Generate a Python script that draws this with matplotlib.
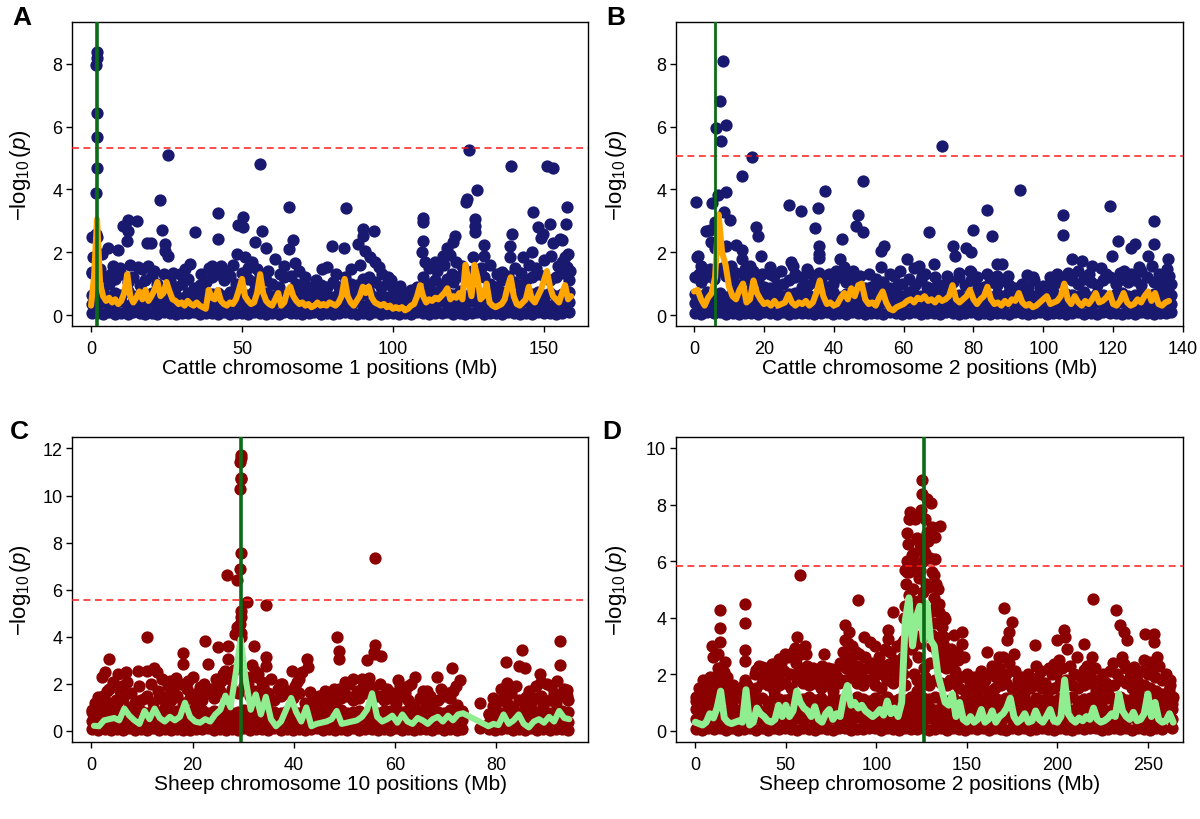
import matplotlib as mpl
mpl.use('Agg')
import matplotlib.pyplot as plt

plt.rcParams['font.family'] = ['Liberation Sans', 'DejaVu Sans']
plt.rcParams['mathtext.fontset'] = 'custom'
plt.rcParams['mathtext.rm'] = 'Liberation Sans'
plt.rcParams['mathtext.it'] = 'Liberation Sans:italic'
plt.rcParams['mathtext.bf'] = 'Liberation Sans:bold'

NAVY = '#191970'
DARKRED = '#8b0000'
ORANGE = '#ffa500'
LIGHTGREEN = '#90ee90'

# ---------------- panel A : cattle chromosome 1 ----------------
a_cols = [0.2, 2.1, 4.0, 6.1, 8.0, 10.0, 12.1, 14.0, 16.1, 18.0,
          20.1, 22.0, 24.1, 26.0, 28.1, 30.0, 32.0, 34.1, 36.0, 38.1,
          40.0, 42.1, 44.0, 46.0, 48.1, 50.0, 52.1, 54.0, 56.1, 58.0,
          60.0, 62.1, 64.0, 66.1, 68.0, 70.0, 72.1, 74.0, 76.1, 78.0,
          80.0, 82.1, 84.0, 86.1, 88.0, 90.0, 92.1, 94.0, 96.1, 98.0,
          100.0, 102.1, 104.0, 106.1, 108.0, 110.0, 112.1, 114.0, 116.1, 118.0,
          120.0, 122.1, 124.0, 126.1, 128.0, 130.0, 132.1, 134.0, 136.1, 138.0,
          140.0, 142.1, 144.0, 146.1, 148.0, 150.0, 152.1, 154.0, 156.1, 158.3]
a_low = [0.05, 0.08, 0.03, 0.10, 0.04, 0.07, 0.02, 0.09, 0.05, 0.03,
         0.08, 0.04, 0.10, 0.06, 0.03, 0.07, 0.05, 0.09, 0.02, 0.06,
         0.08, 0.04, 0.10, 0.03, 0.07, 0.05, 0.02, 0.09, 0.06, 0.04,
         0.08, 0.03, 0.10, 0.05, 0.07, 0.02, 0.06, 0.09, 0.04, 0.08,
         0.03, 0.05, 0.10, 0.07, 0.02, 0.06, 0.04, 0.09, 0.03, 0.08,
         0.05, 0.02, 0.07, 0.04, 0.10, 0.06, 0.03, 0.08, 0.05, 0.09,
         0.02, 0.07, 0.04, 0.06, 0.10, 0.03, 0.08, 0.05, 0.02, 0.09,
         0.06, 0.04, 0.07, 0.03, 0.10, 0.05, 0.08, 0.02, 0.06, 0.09]
a_mid = [0.35, 0.28, 0.42, 0.31, 0.38, 0.45, 0.30, 0.40, 0.33, 0.27,
         0.44, 0.36, 0.29, 0.41, 0.34, 0.26, 0.39, 0.32, 0.43, 0.28,
         0.37, 0.30, 0.45, 0.35, 0.27, 0.40, 0.33, 0.42, 0.29, 0.36,
         0.31, 0.44, 0.26, 0.38, 0.34, 0.28, 0.41, 0.30, 0.37, 0.43,
         0.27, 0.35, 0.39, 0.32, 0.45, 0.29, 0.36, 0.40, 0.26, 0.33,
         0.30, 0.27, 0.38, 0.25, 0.31, 0.42, 0.35, 0.28, 0.44, 0.37,
         0.30, 0.41, 0.33, 0.45, 0.39, 0.29, 0.36, 0.43, 0.27, 0.40,
         0.32, 0.38, 0.44, 0.30, 0.35, 0.42, 0.28, 0.39, 0.34, 0.41]
a_upper = [0.65, 0.60, 0.72, 0.58, 0.70, 0.63, 0.75, 0.60, 0.68, 0.56,
           0.71, 0.64, 0.59, 0.73, 0.62, 0.55, 0.69, 0.61, 0.74, 0.57,
           0.66, 0.70, 0.60, 0.72, 0.58, 0.67, 0.63, 0.75, 0.59, 0.70,
           0.62, 0.68, 0.56, 0.73, 0.60, 0.55, 0.65, 0.58, 0.69, 0.62,
           0.57, 0.70, 0.64, 0.74, 0.60, 0.67, 0.72, 0.58, 0.63, 0.56,
           0.55, 0.52, 0.60, 0.50, 0.58, 0.70, 0.66, 0.73, 0.61, 0.69,
           0.64, 0.75, 0.60, 0.72, 0.68, 0.63, 0.70, 0.58, 0.74, 0.66,
           0.62, 0.71, 0.59, 0.68, 0.73, 0.65, 0.70, 0.60, 0.67, 0.72]
a_top = [1.35, 1.10, 1.25, 1.00, 1.15, 1.30, 1.05, 1.20, 0.95, 1.10,
         1.25, 1.00, 1.30, 1.10, 0.90, 1.00, 1.15, 0.85, 0.95, 1.05,
         1.20, 1.30, 1.10, 1.25, 1.00, 1.35, 1.15, 1.05, 1.30, 1.10,
         1.00, 0.90, 1.20, 1.25, 1.00, 0.85, 0.90, 0.80, 0.95, 0.90,
         1.05, 0.90, 1.20, 1.00, 0.95, 1.15, 1.20, 1.05, 0.90, 1.00,
         0.85, 0.75, 0.70, 0.80, 0.90, 1.20, 1.00, 1.10, 0.95, 1.15,
         1.05, 1.25, 1.30, 1.40, 1.35, 1.20, 1.00, 0.90, 1.10, 1.25,
         1.05, 0.95, 1.10, 1.20, 1.30, 1.25, 1.10, 1.20, 1.35, 1.10]
a_hits = [(1.9, 8.39), (1.9, 8.2), (1.8, 7.96), (2.0, 6.43), (1.9, 5.68), (1.9, 4.67),
          (1.7, 3.9), (1.6, 2.58), (2.0, 2.47), (1.5, 1.84), (1.4, 1.36), (0.2, 2.47),
          (0.2, 1.36), (0.5, 1.85),
          (25.6, 5.1), (56.0, 4.81), (22.8, 3.67), (41.9, 3.25), (41.9, 2.42), (50.4, 3.11),
          (48.6, 2.88), (50.4, 2.79), (65.7, 3.45), (34.4, 2.63), (23.4, 2.7), (12.4, 3.04),
          (15.1, 3.0), (10.7, 2.82), (12.4, 2.69), (11.8, 2.35), (56.7, 2.69), (54.3, 2.31),
          (57.8, 2.13), (67.0, 2.39), (65.7, 2.1), (24.5, 2.26), (25.6, 1.89), (24.5, 2.05),
          (18.4, 2.3), (20.0, 2.28), (5.7, 2.12), (9.0, 2.08), (3.5, 1.94), (48.2, 1.94),
          (51.0, 1.84), (53.2, 1.68), (60.9, 1.78), (67.5, 1.66), (32.8, 1.62), (40.0, 1.57),
          (15.7, 1.52), (7.4, 1.57), (76.4, 1.46),
          (125.2, 5.25), (139.0, 4.73), (151.0, 4.73), (153.1, 4.68), (127.7, 3.98),
          (124.4, 3.69), (124.1, 3.61), (157.5, 3.43), (146.5, 3.29), (84.4, 3.4),
          (110.0, 3.08), (110.0, 2.97), (127.2, 3.06), (127.2, 2.85), (127.2, 2.65),
          (90.2, 2.74), (93.7, 2.69), (90.2, 2.53), (139.3, 2.58), (157.3, 2.9), (148.1, 2.79),
          (151.9, 2.9), (149.8, 2.58), (155.3, 2.42), (120.5, 2.53), (120.0, 2.31), (118.0, 2.15),
          (79.7, 2.2), (83.8, 2.15), (110.0, 2.37), (109.5, 2.0), (130.2, 2.24), (130.2, 1.89),
          (138.8, 2.19), (138.8, 1.84), (152.5, 1.89), (157.0, 1.84), (157.5, 1.52), (88.5, 2.26),
          (90.7, 2.05), (92.4, 1.84), (94.0, 1.68), (95.5, 1.52), (126.6, 1.84), (114.0, 1.68),
          (116.7, 1.89), (119.4, 1.31), (136.0, 1.36), (143.2, 1.84), (98.2, 1.2), (102.3, 0.93),
          (78.0, 1.52), (77.0, 0.88)]
a_scatter = [(3.0, 1.45), (6.5, 1.3), (9.5, 1.5), (13.0, 1.6), (17.0, 1.45), (19.0, 1.55),
             (21.0, 1.4), (27.0, 1.35), (29.5, 1.3), (31.0, 1.45), (36.5, 1.3), (39.0, 1.5),
             (43.0, 1.55), (45.0, 1.4), (47.0, 1.6), (52.0, 1.5), (55.0, 1.45), (58.5, 1.4),
             (62.5, 1.3), (64.0, 1.55), (69.0, 1.4), (71.0, 1.2), (74.5, 1.1), (81.0, 1.3),
             (86.0, 1.45), (89.0, 1.6), (96.5, 1.3), (99.5, 1.1), (112.0, 1.5), (114.5, 1.4),
             (117.0, 1.6), (121.0, 1.7), (123.0, 1.55), (129.0, 1.5), (132.0, 1.6), (134.5, 1.3),
             (140.5, 1.5), (142.5, 1.35), (145.0, 1.6), (147.5, 1.5), (150.0, 1.75), (154.5, 1.55),
             (156.0, 1.7), (158.5, 1.4), (110.5, 1.7), (119.0, 1.9), (146.0, 2.0), (153.0, 2.3),
             (158.0, 1.95), (149.0, 2.45), (156.0, 2.4)]
a_smooth_start, a_smooth_step = 0.0, 1.0
a_smooth = [0.3, 1.2, 3.05, 1.0, 0.6, 0.45, 0.55, 0.4, 0.5, 0.35,
            0.45, 0.7, 1.3, 0.6, 0.4, 0.55, 0.75, 0.5, 0.8, 0.45,
            0.6, 0.8, 1.05, 0.6, 0.7, 1.05, 0.75, 0.5, 0.45, 0.35,
            0.4, 0.3, 0.45, 0.35, 0.3, 0.4, 0.3, 0.25, 0.2, 0.8,
            0.55, 0.5, 0.8, 0.45, 0.35, 0.3, 0.4, 0.35, 0.5, 0.8,
            1.15, 0.6, 0.45, 0.35, 0.4, 0.7, 1.3, 0.7, 0.45, 0.35,
            0.3, 0.5, 0.7, 0.3, 0.4, 0.75, 0.9, 0.6, 0.45, 0.35,
            0.4, 0.3, 0.35, 0.25, 0.3, 0.4, 0.3, 0.35, 0.3, 0.4,
            0.35, 0.3, 0.4, 0.6, 1.15, 0.6, 0.4, 0.3, 0.45, 0.6,
            0.9, 0.7, 0.9, 0.55, 0.4, 0.35, 0.3, 0.35, 0.25, 0.3,
            0.2, 0.25, 0.2, 0.25, 0.15, 0.2, 0.3, 0.35, 0.6, 0.95,
            0.6, 0.4, 0.5, 0.45, 0.55, 0.5, 0.6, 0.7, 0.85, 0.5,
            0.6, 0.55, 0.7, 0.5, 1.6, 1.1, 0.6, 1.6, 1.2, 0.5,
            0.6, 1.0, 0.4, 0.3, 0.25, 0.3, 0.35, 0.5, 0.9, 1.2,
            0.6, 0.35, 0.3, 0.4, 0.5, 0.9, 0.5, 0.4, 0.6, 0.8,
            1.1, 1.4, 0.9, 0.6, 0.5, 0.4, 0.7, 0.95, 0.5, 0.6]

# ---------------- panel B : cattle chromosome 2 ----------------
b_cols = [0.2, 2.0, 3.8, 5.6, 7.4, 9.2, 11.0, 12.8, 14.6, 16.4,
          18.2, 20.0, 21.8, 23.6, 25.4, 27.2, 29.0, 30.8, 32.6, 34.4,
          36.2, 38.0, 39.8, 41.6, 43.4, 45.2, 47.0, 48.8, 50.6, 52.4,
          54.2, 56.0, 57.8, 59.6, 61.4, 63.2, 65.0, 66.8, 68.6, 70.4,
          72.2, 74.0, 75.8, 77.6, 79.4, 81.2, 83.0, 84.8, 86.6, 88.4,
          90.2, 92.0, 93.8, 95.6, 97.4, 99.2, 101.0, 102.8, 104.6, 106.4,
          108.2, 110.0, 111.8, 113.6, 115.4, 117.2, 119.0, 120.8, 122.6, 124.4,
          126.2, 128.0, 129.8, 131.6, 133.4, 135.2, 136.6]
b_low = [0.06, 0.03, 0.09, 0.05, 0.10, 0.04, 0.07, 0.02, 0.08, 0.05,
         0.03, 0.09, 0.06, 0.04, 0.10, 0.02, 0.07, 0.05, 0.08, 0.03,
         0.06, 0.10, 0.04, 0.07, 0.02, 0.09, 0.05, 0.03, 0.08, 0.06,
         0.04, 0.10, 0.07, 0.02, 0.05, 0.09, 0.03, 0.06, 0.08, 0.04,
         0.10, 0.05, 0.02, 0.07, 0.09, 0.03, 0.06, 0.04, 0.08, 0.05,
         0.02, 0.10, 0.07, 0.03, 0.06, 0.09, 0.04, 0.08, 0.05, 0.02,
         0.07, 0.10, 0.03, 0.06, 0.04, 0.09, 0.05, 0.08, 0.02, 0.07,
         0.04, 0.10, 0.06, 0.03, 0.08, 0.05, 0.09]
b_mid = [0.38, 0.30, 0.45, 0.34, 0.40, 0.28, 0.43, 0.36, 0.31, 0.42,
         0.27, 0.39, 0.33, 0.44, 0.29, 0.37, 0.41, 0.30, 0.35, 0.26,
         0.40, 0.32, 0.45, 0.28, 0.38, 0.34, 0.42, 0.30, 0.36, 0.27,
         0.41, 0.33, 0.39, 0.29, 0.44, 0.35, 0.31, 0.40, 0.28, 0.37,
         0.43, 0.30, 0.36, 0.26, 0.39, 0.34, 0.42, 0.29, 0.38, 0.32,
         0.45, 0.27, 0.35, 0.41, 0.30, 0.37, 0.33, 0.44, 0.28, 0.39,
         0.36, 0.31, 0.43, 0.29, 0.40, 0.34, 0.27, 0.38, 0.42, 0.30,
         0.35, 0.41, 0.28, 0.37, 0.33, 0.40, 0.36]
b_upper = [0.68, 0.60, 0.74, 0.63, 0.70, 0.58, 0.72, 0.66, 0.61, 0.75,
           0.57, 0.69, 0.62, 0.73, 0.59, 0.66, 0.71, 0.60, 0.64, 0.56,
           0.70, 0.62, 0.74, 0.58, 0.67, 0.63, 0.72, 0.60, 0.65, 0.57,
           0.71, 0.61, 0.68, 0.59, 0.73, 0.64, 0.60, 0.69, 0.57, 0.66,
           0.72, 0.60, 0.65, 0.56, 0.68, 0.62, 0.71, 0.58, 0.67, 0.61,
           0.74, 0.57, 0.64, 0.70, 0.60, 0.66, 0.62, 0.73, 0.58, 0.68,
           0.65, 0.60, 0.72, 0.58, 0.69, 0.63, 0.57, 0.67, 0.71, 0.60,
           0.64, 0.70, 0.58, 0.66, 0.62, 0.69, 0.65]
b_top = [1.20, 1.05, 1.30, 1.15, 1.40, 1.25, 1.10, 0.95, 1.20, 1.05,
         1.10, 0.90, 0.85, 0.95, 1.00, 1.10, 1.20, 0.90, 0.95, 1.05,
         1.15, 0.90, 1.00, 1.20, 1.05, 1.15, 0.95, 0.85, 0.90, 0.80,
         1.05, 0.85, 0.90, 1.00, 1.15, 0.95, 1.10, 0.90, 0.85, 0.95,
         0.90, 1.05, 1.20, 0.95, 1.10, 0.85, 0.90, 1.05, 0.95, 1.10,
         0.95, 0.85, 1.00, 0.90, 1.10, 0.85, 0.80, 0.95, 1.05, 1.20,
         1.10, 1.00, 1.15, 1.05, 0.95, 1.10, 1.20, 1.00, 1.15, 1.05,
         1.10, 0.95, 1.20, 1.05, 0.90, 1.15, 1.00]
b_hits = [(8.3, 8.1), (7.5, 6.8), (9.0, 6.06), (6.4, 5.96), (7.8, 5.53), (16.6, 5.04),
          (13.7, 4.42), (9.2, 3.93), (6.9, 3.82), (5.0, 3.57), (0.5, 3.61), (8.5, 3.29),
          (10.2, 3.04), (6.1, 2.95), (27.3, 3.5), (30.5, 3.31), (37.6, 3.95), (35.4, 3.42),
          (34.7, 2.77), (46.9, 3.18), (48.3, 4.27), (46.4, 2.85), (48.3, 2.65), (42.3, 2.42),
          (17.6, 2.81), (18.3, 2.53), (3.3, 2.69), (4.6, 2.71), (4.7, 2.31), (5.9, 2.15),
          (9.2, 2.19), (12.1, 2.24), (13.7, 2.07), (13.7, 1.78), (19.2, 1.89), (1.1, 1.87),
          (2.1, 1.57), (0.7, 1.84), (35.8, 2.19), (35.8, 1.94), (35.8, 1.82), (35.8, 1.34),
          (41.9, 1.78), (53.5, 2.05), (54.5, 2.2), (53.5, 1.52), (61.0, 1.78), (27.8, 1.7),
          (28.3, 1.57), (21.6, 1.52), (21.6, 1.3), (32.4, 1.46), (43.0, 1.52), (45.4, 1.41),
          (15.9, 1.57), (57.3, 1.25),
          (71.1, 5.39), (93.3, 3.99), (83.8, 3.35), (85.4, 2.53), (79.8, 2.72), (67.3, 2.65),
          (105.7, 3.18), (105.6, 2.56), (119.2, 3.46), (131.8, 2.99), (74.0, 2.21), (74.8, 1.89),
          (77.8, 2.12), (79.3, 2.0), (79.4, 1.36), (86.8, 1.62), (88.3, 1.62), (86.7, 1.25),
          (95.2, 1.27), (121.4, 2.35), (119.7, 1.87), (125.2, 2.15), (126.3, 2.26), (131.6, 2.26),
          (130.0, 1.89), (131.1, 1.57), (135.7, 1.78), (135.4, 1.46), (108.3, 1.78), (111.1, 1.73),
          (114.0, 1.57), (116.4, 1.49), (123.0, 1.41), (127.3, 1.52), (64.3, 1.57), (68.8, 1.62),
          (65.4, 1.25), (79.0, 1.41), (102.0, 1.2), (100.0, 0.93), (134.5, 1.09)]
b_scatter = [(1.5, 1.3), (3.0, 1.2), (4.5, 1.45), (8.0, 1.5), (10.5, 1.55), (12.0, 1.35),
             (14.5, 1.45), (17.0, 1.4), (19.5, 1.3), (23.0, 1.25), (25.0, 1.4), (29.0, 1.3),
             (31.0, 1.2), (33.0, 1.35), (38.5, 1.3), (40.5, 1.4), (44.0, 1.3), (47.5, 1.25),
             (50.0, 1.3), (52.0, 1.15), (56.0, 1.3), (59.0, 1.4), (63.0, 1.5), (66.0, 1.3),
             (69.0, 1.2), (72.5, 1.25), (76.0, 1.35), (81.0, 1.2), (84.0, 1.3), (90.0, 1.25),
             (97.0, 1.2), (104.0, 1.3), (107.0, 1.35), (110.0, 1.4), (113.0, 1.3), (118.0, 1.3),
             (122.0, 1.35), (125.0, 1.3), (128.0, 1.4), (133.0, 1.3), (136.0, 1.25)]
b_smooth_start, b_smooth_step = 0.0, 1.0
b_smooth = [0.75, 0.8, 0.5, 0.3, 0.55, 0.7, 1.2, 3.2, 2.0, 1.6,
            0.9, 0.6, 0.5, 0.8, 1.0, 0.4, 0.5, 1.1, 0.7, 0.5,
            0.35, 0.4, 0.3, 0.45, 0.3, 0.35, 0.4, 0.65, 0.4, 0.3,
            0.4, 0.35, 0.45, 0.3, 0.4, 0.7, 1.1, 0.6, 0.35, 0.4,
            0.3, 0.35, 0.55, 0.7, 0.5, 0.85, 0.6, 0.95, 1.0, 0.5,
            0.35, 0.4, 0.3, 0.55, 0.75, 0.4, 0.2, 0.15, 0.25, 0.3,
            0.35, 0.45, 0.5, 0.4, 0.55, 0.5, 0.6, 0.45, 0.5, 0.4,
            0.55, 0.45, 0.5, 0.6, 0.95, 0.5, 0.4, 0.5, 0.6, 0.8,
            0.5, 0.35, 0.5, 0.6, 0.9, 0.5, 0.35, 0.4, 0.3, 0.45,
            0.35, 0.5, 0.45, 0.7, 0.4, 0.3, 0.35, 0.25, 0.3, 0.4,
            0.5, 0.6, 0.35, 0.4, 0.45, 0.6, 1.0, 0.5, 0.35, 0.6,
            0.4, 0.3, 0.45, 0.35, 0.5, 0.7, 0.4, 0.45, 0.55, 0.7,
            0.35, 0.3, 0.45, 0.7, 0.4, 0.3, 0.35, 0.5, 0.4, 0.6,
            0.75, 0.45, 0.7, 0.35, 0.3, 0.4, 0.45]

# ---------------- panel C : sheep chromosome 10 ----------------
c_cols = [0.2, 1.4, 2.6, 3.8, 5.0, 6.2, 7.4, 8.6, 9.8, 11.0,
          12.2, 13.4, 14.6, 15.8, 17.0, 18.2, 19.4, 20.6, 21.8, 23.0,
          24.2, 25.4, 26.6, 27.8, 29.0, 30.2, 31.4, 32.6, 33.8, 35.0,
          36.2, 37.4, 38.6, 39.8, 41.0, 42.2, 43.4, 44.6, 45.8, 47.0,
          48.2, 49.4, 50.6, 51.8, 53.0, 54.2, 55.4, 56.6, 57.8, 59.0,
          60.2, 61.4, 62.6, 63.8, 65.0, 66.2, 67.4, 68.6, 69.8, 71.0,
          72.2, 73.2, 78.6, 79.8, 81.0, 82.2, 83.4, 84.6, 85.8, 87.0,
          88.2, 89.4, 90.6, 91.8, 93.0, 94.2]
c_low = [0.07, 0.04, 0.10, 0.05, 0.08, 0.03, 0.11, 0.06, 0.09, 0.04,
         0.12, 0.05, 0.08, 0.03, 0.10, 0.06, 0.04, 0.09, 0.07, 0.11,
         0.05, 0.08, 0.03, 0.10, 0.06, 0.12, 0.04, 0.09, 0.07, 0.05,
         0.11, 0.03, 0.08, 0.06, 0.10, 0.04, 0.07, 0.12, 0.05, 0.09,
         0.03, 0.08, 0.06, 0.11, 0.04, 0.10, 0.07, 0.05, 0.09, 0.03,
         0.12, 0.06, 0.08, 0.04, 0.10, 0.07, 0.05, 0.11, 0.03, 0.09,
         0.06, 0.08, 0.10, 0.05, 0.07, 0.12, 0.04, 0.09, 0.06, 0.11,
         0.05, 0.08, 0.03, 0.10, 0.07, 0.06]
c_mid = [0.42, 0.36, 0.48, 0.40, 0.45, 0.34, 0.50, 0.38, 0.44, 0.35,
         0.47, 0.41, 0.37, 0.49, 0.43, 0.33, 0.46, 0.39, 0.50, 0.36,
         0.44, 0.40, 0.48, 0.35, 0.42, 0.47, 0.38, 0.45, 0.34, 0.49,
         0.41, 0.37, 0.46, 0.43, 0.36, 0.50, 0.39, 0.44, 0.35, 0.47,
         0.40, 0.48, 0.37, 0.42, 0.45, 0.34, 0.49, 0.38, 0.43, 0.46,
         0.36, 0.41, 0.50, 0.39, 0.44, 0.35, 0.47, 0.42, 0.37, 0.48,
         0.40, 0.45, 0.33, 0.46, 0.38, 0.43, 0.49, 0.36, 0.41, 0.44,
         0.39, 0.47, 0.35, 0.42, 0.45, 0.40]
c_upper = [0.82, 0.76, 0.88, 0.80, 0.85, 0.74, 0.90, 0.78, 0.84, 0.75,
           0.87, 0.81, 0.77, 0.89, 0.83, 0.73, 0.86, 0.79, 0.90, 0.76,
           0.84, 0.80, 0.88, 0.75, 0.82, 0.87, 0.78, 0.85, 0.74, 0.89,
           0.81, 0.77, 0.86, 0.83, 0.76, 0.90, 0.79, 0.84, 0.75, 0.87,
           0.80, 0.88, 0.77, 0.82, 0.85, 0.74, 0.89, 0.78, 0.83, 0.86,
           0.76, 0.81, 0.90, 0.79, 0.84, 0.75, 0.87, 0.82, 0.77, 0.88,
           0.80, 0.85, 0.73, 0.86, 0.78, 0.83, 0.89, 0.76, 0.81, 0.84,
           0.79, 0.87, 0.75, 0.82, 0.85, 0.80]
c_top = [0.9, 1.1, 1.3, 1.0, 1.2, 1.4, 1.0, 1.2, 1.3, 1.5,
         1.2, 1.4, 1.0, 1.3, 1.5, 1.2, 1.4, 1.1, 1.3, 1.6,
         1.4, 1.7, 1.5, 1.8, 1.6, 1.9, 1.5, 1.7, 1.4, 1.6,
         1.3, 1.5, 1.7, 1.4, 1.6, 1.2, 1.0, 0.9, 1.1, 1.3,
         1.2, 1.4, 1.5, 1.3, 1.4, 1.6, 1.8, 1.5, 1.3, 1.4,
         1.2, 1.5, 1.3, 1.1, 1.4, 1.2, 1.0, 1.3, 1.5, 1.4,
         1.1, 0.8, 0.7, 1.0, 1.3, 1.2, 1.0, 1.3, 1.1, 1.2,
         1.4, 1.1, 1.3, 1.2, 1.5, 1.3]
c_hits = [(29.5, 11.73), (29.6, 11.6), (29.4, 11.44), (29.6, 10.76), (29.5, 10.69), (29.4, 10.3),
          (29.6, 7.54), (29.4, 6.9), (29.5, 5.1), (29.6, 4.82), (29.4, 4.54), (29.5, 4.14),
          (29.5, 3.97), (26.9, 6.63), (28.7, 6.42), (30.8, 5.46), (34.5, 5.35), (28.7, 4.4),
          (28.4, 4.12), (22.4, 3.8), (32.1, 3.62), (27.1, 3.62), (25.1, 3.55), (34.5, 3.13),
          (34.5, 2.77), (10.9, 3.97), (3.4, 3.06), (18.2, 3.3), (18.2, 2.84), (23.1, 2.84),
          (27.1, 3.06), (26.4, 2.56), (25.7, 2.14), (32.3, 2.56), (32.7, 2.28), (33.7, 2.07),
          (9.2, 2.56), (10.9, 2.56), (12.4, 2.66), (12.9, 2.49), (6.8, 2.49), (5.3, 2.42),
          (2.6, 2.49), (2.0, 2.28), (4.3, 2.09), (7.1, 2.07), (15.5, 2.11), (16.8, 2.25),
          (19.1, 2.14), (21.5, 1.85), (20.5, 1.57), (39.6, 2.56), (41.6, 2.49), (42.7, 3.06),
          (42.9, 2.7), (37.6, 2.0), (38.6, 1.71), (40.6, 2.07), (43.2, 1.64), (44.9, 1.36),
          (1.3, 1.43), (3.0, 1.71), (5.6, 1.71), (8.9, 1.29), (14.5, 1.43), (16.2, 1.71),
          (56.1, 7.34), (48.5, 3.97), (49.0, 3.41), (49.0, 3.06), (56.0, 3.66), (55.8, 3.34),
          (54.5, 3.01), (57.3, 3.2), (56.1, 3.27), (85.1, 3.44), (92.7, 3.8), (92.7, 2.8),
          (81.9, 2.91), (84.5, 2.74), (85.8, 2.67), (71.4, 2.67), (68.3, 2.31), (72.9, 2.16),
          (54.8, 2.25), (51.8, 2.21), (60.7, 2.16), (64.0, 2.28), (62.7, 1.92), (50.2, 2.07),
          (47.9, 1.78), (88.7, 2.42), (88.9, 2.07), (90.8, 1.92), (94.1, 1.74), (92.1, 2.14),
          (82.2, 2.02), (81.8, 1.71), (85.9, 1.43), (76.9, 1.17), (76.8, 0.13), (79.5, 1.07),
          (58.4, 1.71), (66.3, 1.71), (71.6, 1.71), (46.5, 1.57), (53.8, 1.85)]
c_scatter = [(0.8, 1.2), (2.2, 1.5), (3.5, 1.8), (4.8, 1.3), (6.0, 1.9), (7.8, 1.6),
             (9.5, 1.9), (10.5, 1.4), (11.8, 2.0), (13.2, 1.7), (14.0, 2.2), (15.2, 1.9),
             (16.5, 1.5), (17.6, 2.0), (19.0, 1.8), (20.0, 2.3), (21.0, 1.6), (22.2, 2.0),
             (23.6, 1.8), (24.6, 2.2), (25.0, 1.9), (26.0, 2.4), (27.5, 2.2), (28.2, 2.6),
             (30.5, 2.3), (31.0, 2.0), (31.8, 2.8), (33.0, 2.4), (34.0, 1.9), (35.5, 2.2),
             (36.8, 1.8), (37.5, 2.0), (38.0, 1.6), (40.2, 1.9), (41.0, 2.2), (43.8, 1.4),
             (45.0, 1.5), (46.2, 1.7), (47.5, 1.5), (49.0, 1.8), (50.0, 1.6), (51.0, 2.0),
             (52.5, 1.7), (53.5, 2.2), (55.0, 1.9), (57.0, 2.0), (58.5, 1.8), (59.5, 1.6),
             (61.0, 1.9), (62.0, 1.6), (63.2, 2.0), (65.5, 1.7), (67.0, 1.5), (69.2, 1.8),
             (70.5, 1.6), (72.0, 1.9), (79.5, 1.4), (81.0, 1.8), (83.0, 1.6), (84.0, 1.9),
             (86.5, 1.7), (88.0, 1.9), (89.0, 1.5), (90.0, 2.0), (91.5, 1.6), (93.5, 1.8),
             (94.0, 1.5)]
# smoothed trend, sampled every 1 Mb on the two stretches that carry markers
c_smooth_start, c_smooth_step = 0.5, 1.0
c_smooth = [0.22, 0.2, 0.45, 0.5, 0.55, 0.45, 0.95, 0.65, 0.45, 0.3,
            0.85, 0.5, 0.95, 0.55, 0.4, 0.6, 0.45, 0.6, 1.2, 0.6,
            0.4, 0.35, 0.5, 0.4, 0.7, 0.9, 1.5, 1.0, 2.4, 3.9,
            2.2, 0.9, 1.55, 0.7, 1.45, 0.5, 0.2, 0.4, 0.9, 1.4,
            0.8, 0.4, 1.0, 0.2, 0.3, 0.35, 0.4, 0.5, 0.85, 0.3,
            0.35, 0.4, 0.45, 0.6, 0.9, 1.6, 0.6, 0.4, 0.5, 0.65,
            0.35, 0.7, 0.4, 0.3, 0.55, 0.45, 0.3, 0.5, 0.6, 0.4,
            0.65, 0.45, 0.7, 0.75]
c_smooth2_start = 78.5
c_smooth2 = [0.2, 0.3, 0.25, 0.7, 0.3, 0.45, 0.7, 0.3, 0.15, 0.4,
             0.5, 0.35, 0.6, 0.4, 0.85, 0.55, 0.5]

# ---------------- panel D : sheep chromosome 2 ----------------
d_cols = [0.3, 3.6, 6.9, 10.2, 13.5, 16.8, 20.1, 23.4, 26.7, 30.0,
          33.3, 36.6, 39.9, 43.2, 46.5, 49.8, 53.1, 56.4, 59.7, 63.0,
          66.3, 69.6, 72.9, 76.2, 79.5, 82.8, 86.1, 89.4, 92.7, 96.0,
          99.3, 102.6, 105.9, 109.2, 112.5, 115.8, 119.1, 122.4, 125.7, 129.0,
          132.3, 135.6, 138.9, 142.2, 145.5, 148.8, 152.1, 155.4, 158.7, 162.0,
          165.3, 168.6, 171.9, 175.2, 178.5, 181.8, 185.1, 188.4, 191.7, 195.0,
          198.3, 201.6, 204.9, 208.2, 211.5, 214.8, 218.1, 221.4, 224.7, 228.0,
          231.3, 234.6, 237.9, 241.2, 244.5, 247.8, 251.1, 254.4, 257.7, 263.5]
d_low = [0.06, 0.03, 0.09, 0.05, 0.11, 0.04, 0.08, 0.02, 0.07, 0.10,
         0.04, 0.08, 0.03, 0.11, 0.06, 0.09, 0.05, 0.02, 0.10, 0.07,
         0.03, 0.09, 0.06, 0.04, 0.11, 0.08, 0.02, 0.07, 0.05, 0.10,
         0.08, 0.04, 0.11, 0.06, 0.03, 0.09, 0.07, 0.05, 0.10, 0.02,
         0.07, 0.10, 0.04, 0.08, 0.06, 0.03, 0.11, 0.05, 0.09, 0.04,
         0.10, 0.06, 0.02, 0.08, 0.05, 0.11, 0.03, 0.07, 0.09, 0.06,
         0.04, 0.09, 0.07, 0.03, 0.10, 0.05, 0.08, 0.11, 0.02, 0.06,
         0.09, 0.05, 0.08, 0.04, 0.11, 0.07, 0.03, 0.10, 0.06, 0.08]
d_mid = [0.40, 0.34, 0.46, 0.38, 0.43, 0.36, 0.48, 0.35, 0.42, 0.39,
         0.45, 0.37, 0.41, 0.33, 0.47, 0.40, 0.36, 0.44, 0.38, 0.49,
         0.35, 0.42, 0.39, 0.46, 0.34, 0.43, 0.37, 0.48, 0.41, 0.36,
         0.44, 0.38, 0.47, 0.35, 0.40, 0.45, 0.33, 0.42, 0.39, 0.46,
         0.37, 0.43, 0.36, 0.48, 0.41, 0.34, 0.45, 0.39, 0.44, 0.38,
         0.42, 0.35, 0.47, 0.40, 0.36, 0.44, 0.38, 0.49, 0.34, 0.41,
         0.46, 0.39, 0.43, 0.37, 0.45, 0.35, 0.48, 0.40, 0.42, 0.36,
         0.44, 0.38, 0.41, 0.47, 0.34, 0.43, 0.39, 0.45, 0.37, 0.40]
d_upper = [0.75, 0.70, 0.82, 0.73, 0.80, 0.68, 0.85, 0.72, 0.78, 0.74,
           0.83, 0.71, 0.77, 0.69, 0.84, 0.76, 0.72, 0.81, 0.74, 0.86,
           0.70, 0.79, 0.75, 0.83, 0.68, 0.80, 0.73, 0.85, 0.77, 0.71,
           0.82, 0.74, 0.84, 0.70, 0.78, 0.83, 0.69, 0.80, 0.76, 0.85,
           0.72, 0.81, 0.71, 0.86, 0.78, 0.68, 0.83, 0.75, 0.80, 0.73,
           0.79, 0.70, 0.84, 0.77, 0.72, 0.82, 0.74, 0.86, 0.69, 0.78,
           0.85, 0.75, 0.80, 0.72, 0.83, 0.70, 0.86, 0.76, 0.79, 0.71,
           0.81, 0.74, 0.78, 0.84, 0.69, 0.80, 0.75, 0.83, 0.72, 0.76]
d_high = [1.05, 1.10, 1.02, 1.15, 1.08, 1.12, 1.00, 1.18, 1.06, 1.14,
          1.09, 1.16, 1.03, 1.20, 1.11, 1.07, 1.17, 1.04, 1.13, 1.19,
          1.08, 1.14, 1.02, 1.18, 1.10, 1.15, 1.06, 1.20, 1.12, 1.05,
          1.16, 1.09, 1.19, 1.04, 1.13, 1.10, 1.00, 1.08, 1.17, 1.12,
          1.18, 1.11, 1.06, 1.15, 1.03, 1.12, 1.08, 1.00, 1.10, 1.05,
          1.14, 1.07, 1.17, 1.09, 1.04, 1.13, 1.02, 1.16, 1.08, 1.11,
          1.06, 1.15, 1.10, 1.19, 1.05, 1.12, 1.17, 1.03, 1.09, 1.14,
          1.11, 1.18, 1.07, 1.13, 1.04, 1.16, 1.09, 1.12, 1.02, 0.95]
d_top = [1.2, 1.4, 1.6, 1.5, 1.7, 1.5, 1.3, 1.4, 1.6, 1.3,
         1.5, 1.7, 1.6, 1.4, 1.6, 1.7, 1.5, 1.8, 1.7, 1.6,
         1.7, 1.5, 1.6, 1.4, 1.7, 1.8, 1.9, 1.7, 1.6, 1.8,
         1.6, 1.5, 1.8, 1.7, 1.9, 1.6, 1.2, 1.4, 1.7, 1.6,
         1.8, 1.7, 1.6, 1.7, 1.5, 1.4, 1.5, 1.3, 1.5, 1.4,
         1.5, 1.6, 1.7, 1.5, 1.4, 1.3, 1.5, 1.6, 1.5, 1.4,
         1.5, 1.7, 1.8, 1.6, 1.5, 1.6, 1.7, 1.4, 1.5, 1.3,
         1.6, 1.8, 1.7, 1.5, 1.4, 1.6, 1.5, 1.4, 1.3, 1.1]
d_hits = [(58.0, 5.52), (27.6, 4.49), (27.6, 3.82), (27.6, 2.84), (27.6, 2.46), (27.6, 1.78),
          (13.8, 4.28), (13.8, 3.63), (13.8, 3.14), (12.5, 2.72), (9.2, 2.98), (16.6, 2.43),
          (15.7, 2.08), (11.6, 1.9), (89.7, 4.61), (82.9, 3.73), (85.1, 3.49), (82.5, 3.2),
          (86.6, 2.98), (83.8, 2.61), (93.0, 3.31), (96.7, 3.14), (99.4, 2.98), (90.2, 2.72),
          (109.2, 4.2), (106.4, 3.55), (106.4, 3.25), (104.6, 2.9), (114.2, 3.1), (106.8, 2.37),
          (56.2, 3.31), (55.2, 2.94), (60.8, 2.98), (61.1, 2.72), (71.3, 2.72), (75.5, 2.19),
          (46.0, 2.55), (49.4, 2.72), (42.4, 2.37), (36.8, 2.25), (33.7, 2.13),
          (116.0, 5.67), (117.9, 7.5), (1.8, 1.19), (5.5, 1.43), (10.1, 1.9),
          (170.4, 4.35), (174.9, 3.84), (173.1, 3.49), (172.2, 3.2),
          (219.7, 4.67), (232.6, 4.26), (234.8, 3.73), (236.7, 3.49), (238.5, 3.2), (248.6, 3.41),
          (253.2, 3.43), (253.2, 3.14), (203.5, 3.57), (204.4, 3.31), (199.8, 3.2), (214.9, 3.05),
          (147.3, 3.49), (147.3, 3.08), (144.6, 2.78), (142.8, 3.37),
          (187.8, 3.02), (188.4, 2.28), (161.1, 2.78), (219.1, 2.61), (214.5, 2.16), (255.0, 2.61),
          (250.4, 2.43), (176.1, 2.72), (167.6, 2.61), (236.7, 2.37), (242.2, 2.25), (262.0, 1.78),
          (261.5, 1.43), (197.9, 2.37), (197.0, 2.02), (137.2, 3.31), (139.0, 2.72), (141.8, 2.43)]
d_peak = [(114.5, 2.0), (114.8, 2.6), (115.2, 3.2), (115.5, 4.0), (116.0, 4.4), (116.2, 2.4),
          (116.5, 5.2), (117.0, 6.0), (117.2, 7.0), (117.5, 6.6), (117.8, 3.6), (118.0, 4.8),
          (118.3, 5.6), (118.8, 7.5), (119.0, 2.9), (119.5, 6.2), (120.0, 4.2), (120.2, 5.0),
          (120.6, 6.3), (121.0, 3.4), (121.5, 7.5), (122.0, 5.8), (122.5, 6.8), (123.0, 4.6),
          (123.2, 2.6), (123.6, 5.4), (124.0, 6.6), (124.3, 5.7), (124.7, 7.8), (125.0, 3.8),
          (125.2, 8.86), (125.2, 8.36), (125.6, 6.0), (126.0, 4.9), (126.5, 2.2), (127.1, 7.5),
          (127.1, 6.3), (127.5, 5.2), (128.0, 3.4), (128.5, 6.7), (129.0, 5.1), (129.4, 4.2),
          (129.8, 6.1), (130.2, 8.05), (130.5, 3.0), (131.0, 5.6), (131.7, 5.5), (131.7, 4.7),
          (132.2, 3.8), (132.6, 6.85), (132.6, 6.08), (133.0, 4.4), (133.5, 2.8), (134.0, 5.0),
          (134.5, 4.49), (134.5, 4.2), (135.0, 3.3), (135.4, 7.24), (135.8, 2.5), (136.3, 3.67),
          (137.2, 4.02), (137.5, 3.0), (138.1, 3.96), (138.5, 2.2), (139.0, 2.72), (120.6, 2.0),
          (122.5, 1.8), (127.0, 1.9), (129.5, 2.4), (126.3, 3.5), (124.0, 3.1), (121.8, 4.3),
          (119.7, 6.03), (122.5, 6.79), (121.5, 7.52), (118.8, 7.73), (126.0, 6.5), (128.0, 7.0),
          (130.5, 7.2), (127.8, 8.2), (133.2, 5.2), (116.8, 5.6), (118.5, 4.0), (120.0, 3.0),
          (123.5, 3.9), (131.0, 3.4), (134.0, 3.2), (136.5, 2.3)]
d_scatter = [(2.0, 1.5), (4.5, 1.8), (6.0, 1.3), (8.0, 1.9), (9.5, 2.6), (11.0, 1.7),
             (12.5, 2.2), (15.0, 1.6), (17.5, 1.9), (19.0, 1.4), (21.0, 1.6), (22.5, 1.2),
             (25.0, 1.5), (28.5, 1.6), (31.5, 1.4), (33.0, 2.0), (35.0, 2.3), (37.5, 1.9),
             (39.0, 2.2), (40.5, 1.7), (42.0, 2.0), (44.0, 2.3), (45.5, 1.9), (47.5, 2.4),
             (49.0, 2.1), (51.0, 2.6), (52.5, 2.0), (54.0, 2.8), (55.5, 2.4), (57.0, 2.1),
             (58.5, 2.7), (60.0, 1.9), (61.5, 2.3), (63.5, 2.0), (65.0, 2.2), (66.5, 1.8),
             (68.0, 2.1), (70.0, 2.3), (72.0, 1.9), (73.5, 2.2), (75.0, 1.8), (77.0, 2.1),
             (78.5, 1.9), (80.0, 2.4), (81.5, 2.8), (83.0, 2.2), (84.5, 3.1), (86.0, 2.5),
             (87.5, 2.1), (88.5, 2.8), (90.0, 2.3), (91.5, 2.0), (93.5, 2.6), (95.0, 2.2),
             (97.0, 2.4), (98.5, 1.9), (100.0, 2.2), (101.5, 2.6), (103.0, 2.0), (104.0, 2.3),
             (105.5, 1.9), (107.5, 2.8), (108.5, 2.1), (110.0, 2.5), (111.5, 3.0), (113.0, 2.2),
             (140.5, 1.8), (141.5, 2.9), (143.5, 2.1), (145.0, 2.5), (146.5, 1.9), (148.5, 2.6),
             (150.0, 2.0), (152.0, 1.7), (154.0, 1.9), (156.0, 1.6), (158.0, 2.1), (160.0, 1.8),
             (162.5, 2.0), (164.0, 2.3), (166.0, 1.9), (168.0, 2.2), (170.0, 2.6), (171.5, 2.0),
             (173.5, 2.4), (176.5, 2.1), (178.0, 1.8), (180.0, 1.9), (182.0, 1.6), (184.0, 2.0),
             (186.0, 1.8), (189.5, 1.9), (191.0, 2.1), (193.0, 1.7), (195.5, 2.2), (199.0, 2.0),
             (201.0, 2.5), (202.5, 2.2), (205.5, 2.9), (207.0, 2.3), (209.0, 2.0), (211.0, 2.6),
             (213.0, 1.9), (216.5, 2.3), (218.0, 2.0), (221.0, 2.2), (223.0, 1.8), (225.0, 2.0),
             (227.0, 1.7), (229.0, 2.1), (231.0, 2.4), (233.0, 2.0), (235.5, 2.6), (238.0, 2.2),
             (240.0, 1.9), (242.0, 2.0), (244.0, 1.8), (246.0, 2.1), (248.0, 2.5), (250.0, 2.0),
             (252.0, 2.2), (254.0, 1.9), (256.0, 2.3), (258.0, 1.8), (260.0, 2.0), (262.5, 1.6),
             (264.0, 1.2)]
d_smooth_start, d_smooth_step = 0.0, 2.0
d_smooth = [0.3, 0.25, 0.2, 0.3, 0.6, 0.45, 0.8, 1.4, 0.45, 0.3,
            0.25, 0.3, 0.35, 0.3, 1.45, 0.2, 0.3, 0.8, 0.6, 0.5,
            0.35, 0.3, 0.4, 0.9, 0.5, 0.9, 0.5, 0.7, 1.4, 1.0,
            0.8, 0.7, 0.5, 0.85, 0.4, 0.3, 0.6, 0.75, 0.4, 0.6,
            0.5, 1.2, 1.6, 0.9, 1.0, 0.8, 0.9, 0.7, 0.6, 0.5,
            0.6, 0.75, 0.55, 1.05, 0.6, 0.8, 0.5, 1.0, 3.9, 4.7,
            3.0, 4.0, 4.4, 3.2, 4.5, 3.2, 3.0, 2.0, 1.5, 1.0,
            0.9, 1.3, 0.5, 1.0, 0.4, 0.3, 0.5, 0.3, 0.4, 0.75,
            0.3, 0.4, 0.7, 0.3, 0.5, 0.6, 0.8, 1.15, 0.5, 0.3,
            0.4, 0.6, 0.3, 0.35, 0.7, 0.4, 0.3, 0.5, 0.75, 0.35,
            0.3, 0.5, 1.8, 0.6, 0.4, 0.3, 0.45, 0.35, 0.5, 0.4,
            0.8, 0.4, 0.3, 0.35, 0.45, 0.6, 0.5, 1.3, 0.7, 0.5,
            0.4, 0.65, 0.35, 0.4, 0.6, 1.3, 0.5, 1.0, 0.4, 0.3,
            0.35, 0.6, 0.3]

# thresholds and lead markers
thresholds = {'A': 5.32, 'B': 5.05, 'C': 5.57, 'D': 5.83}
lead_pos = {'A': 1.85, 'B': 6.0, 'C': 29.5, 'D': 126.4}
xlabels = {'A': 'Cattle chromosome 1 positions (Mb)',
           'B': 'Cattle chromosome 2 positions (Mb)',
           'C': 'Sheep chromosome 10 positions (Mb)',
           'D': 'Sheep chromosome 2 positions (Mb)'}

DOT = 78


def positions(start, step, n):
    return [start + step * i for i in range(n)]


def draw_panel(ax, letter, cols, layers, point_sets, smooth_x, smooth_y, dot_col, line_col,
               line_w, lead_w, xlim, ylim, xticks, yticks, ylab_x):
    for layer in layers:
        n = min(len(cols), len(layer))
        ax.scatter(cols[:n], layer[:n], s=DOT, c=dot_col, linewidths=0, zorder=2)
    for pts in point_sets:
        xs = [p[0] for p in pts]
        ys = [p[1] for p in pts]
        ax.scatter(xs, ys, s=DOT, c=dot_col, linewidths=0, zorder=2)
    ax.plot(smooth_x, smooth_y, color=line_col, lw=line_w, solid_joinstyle='round',
            solid_capstyle='round', zorder=3)
    ax.axhline(thresholds[letter], color='#ff1a1a', lw=1.1, ls=(0, (4.5, 3)), zorder=4)
    ax.axvline(lead_pos[letter], color='#0b6b16', lw=lead_w, zorder=5)
    ax.set_xlim(*xlim)
    ax.set_ylim(*ylim)
    ax.set_xticks(xticks)
    ax.set_yticks(yticks)
    ax.tick_params(direction='out', length=4, width=1.0, labelsize=13)
    ax.tick_params(axis='x', pad=6)
    ax.tick_params(axis='y', pad=3)
    for sp in ax.spines.values():
        sp.set_linewidth(1.0)
    ax.set_xlabel(xlabels[letter], fontsize=15)
    ax.xaxis.set_label_coords(0.5, -0.135)
    ax.xaxis.label.set_va('center')
    ax.set_ylabel(r'$-\log_{10}(p)$', fontsize=16)
    ax.yaxis.set_label_coords(ylab_x, 0.5)
    ax.yaxis.label.set_va('center')


fig = plt.figure(figsize=(12, 8.2), dpi=100)
axA = fig.add_axes([0.06, 0.6012, 0.43, 0.3707])
axB = fig.add_axes([0.5633, 0.6012, 0.4225, 0.3707])
axC = fig.add_axes([0.06, 0.0939, 0.43, 0.372])
axD = fig.add_axes([0.5633, 0.0939, 0.4225, 0.372])

draw_panel(axA, 'A', a_cols, [a_low, a_mid, a_upper, a_top], [a_hits, a_scatter],
           positions(a_smooth_start, a_smooth_step, len(a_smooth)), a_smooth,
           NAVY, ORANGE, 4.4, 2.6, (-6.3, 164.6), (-0.35, 9.33), [0, 50, 100, 150],
           [0, 2, 4, 6, 8], -0.10)
draw_panel(axB, 'B', b_cols, [b_low, b_mid, b_upper, b_top], [b_hits, b_scatter],
           positions(b_smooth_start, b_smooth_step, len(b_smooth)), b_smooth,
           NAVY, ORANGE, 4.4, 2.0, (-5.2, 139.7), (-0.35, 9.33), list(range(0, 141, 20)),
           [0, 2, 4, 6, 8], -0.118)
c_x = positions(c_smooth_start, c_smooth_step, len(c_smooth)) + \
    positions(c_smooth2_start, c_smooth_step, len(c_smooth2))
draw_panel(axC, 'C', c_cols, [c_low, c_mid, c_upper, c_top], [c_hits, c_scatter],
           c_x, c_smooth + c_smooth2,
           DARKRED, LIGHTGREEN, 4.4, 2.6, (-3.84, 98.2), (-0.47, 12.49), [0, 20, 40, 60, 80],
           [0, 2, 4, 6, 8, 10, 12], -0.10)
draw_panel(axD, 'D', d_cols, [d_low, d_mid, d_upper, d_high, d_top], [d_hits, d_peak, d_scatter],
           positions(d_smooth_start, d_smooth_step, len(d_smooth)), d_smooth,
           DARKRED, LIGHTGREEN, 5.0, 2.6, (-10.7, 269.4), (-0.4, 10.39), [0, 50, 100, 150, 200, 250],
           [0, 2, 4, 6, 8, 10], -0.118)

for letter, (px, py) in {'A': (12, 6), 'B': (606, 6), 'C': (10, 420), 'D': (602, 420)}.items():
    fig.text(px / 1200, 1 - py / 820, letter, fontsize=19, fontweight='bold', va='top', ha='left')

fig.savefig('out.png', dpi=100)
